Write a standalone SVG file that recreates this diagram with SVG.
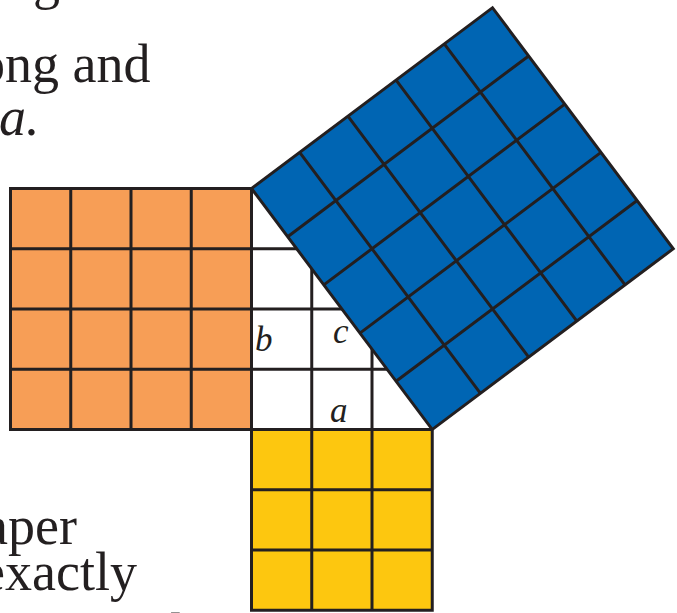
<svg xmlns="http://www.w3.org/2000/svg" width="677" height="613" viewBox="0 0 677 613">
<style>
.ln{stroke:#231f20;stroke-width:3;fill:none;stroke-linecap:butt}
.bd{stroke:#231f20;stroke-width:3;stroke-linejoin:miter}
.body{font-family:"Liberation Serif","Times New Roman",serif;font-size:54px;fill:#231f20}
.lbl{font-family:"Liberation Serif","Times New Roman",serif;font-size:35px;font-style:italic;fill:#231f20}
</style>
<defs>
<clipPath id="tri"><polygon points="251.5,188.5 251.5,429.5 432.25,429.5"/></clipPath>
</defs>
<rect width="677" height="613" fill="#ffffff"/>
<g id="text">
<text class="body" x="-9" y="-2">ing.</text>
<text class="body" x="-22" y="81.7">ong and</text>
<text class="body" x="-1" y="135" font-style="italic">a.</text>
<text class="body" x="-16" y="544">aper</text>
<text class="body" x="-19" y="590">exactly</text>
<text class="body" x="170" y="651">l</text>
</g>
<g id="square-b">
<rect class="bd" x="10.5" y="188.5" width="241" height="241" fill="#f79e56"/>
<path class="ln" d="M70.75,188.5V429.5M131,188.5V429.5M191.25,188.5V429.5M10.5,248.75H251.5M10.5,309H251.5M10.5,369.25H251.5"/>
</g>
<g id="square-a">
<rect class="bd" x="251.5" y="429.5" width="180.75" height="180.75" fill="#fdc70f"/>
<path class="ln" d="M311.75,429.5V610.25M372,429.5V610.25M251.5,489.75H432.25M251.5,550H432.25"/>
</g>
<g id="triangle">
<polygon points="251.5,188.5 251.5,429.5 432.25,429.5" fill="#ffffff"/>
<path class="ln" clip-path="url(#tri)" d="M311.75,188.5V429.5M372,188.5V429.5M251.5,248.75H432.25M251.5,309H432.25M251.5,369.25H432.25"/>
<path class="ln" d="M251.5,188.5V429.5H432.25"/>
<text class="lbl" x="255" y="351">b</text>
<text class="lbl" x="333" y="343">c</text>
<text class="lbl" x="330" y="422">a</text>
</g>
<g id="square-c" transform="translate(251.5,188.5) rotate(-36.87)">
<rect class="bd" x="0" y="0" width="301.25" height="301.25" fill="#0065b3"/>
<path class="ln" d="M60.25,0V301.25M120.5,0V301.25M180.75,0V301.25M241,0V301.25M0,60.25H301.25M0,120.5H301.25M0,180.75H301.25M0,241H301.25"/>
</g>
</svg>
